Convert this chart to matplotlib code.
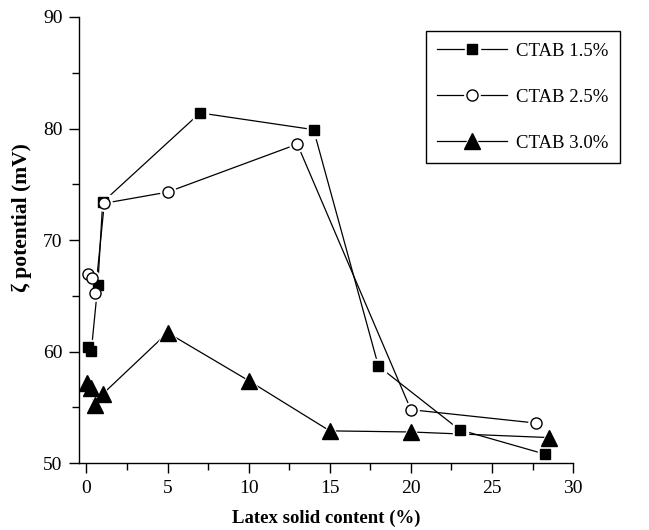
import matplotlib
matplotlib.use("Agg")
import matplotlib.pyplot as plt

# --- data ---
x_15 = [0.1, 0.3, 0.7, 1.0, 7, 14, 18, 23, 28.3]
y_15 = [60.4, 60.1, 66.0, 73.4, 81.4, 79.9, 58.7, 53.0, 50.8]

x_25 = [0.1, 0.35, 0.55, 1.1, 5, 13, 20, 27.7]
y_25 = [67.0, 66.6, 65.3, 73.3, 74.3, 78.6, 54.8, 53.6]

x_30 = [0.05, 0.25, 0.5, 1.0, 5, 10, 15, 20, 28.5]
y_30 = [57.2, 56.7, 55.2, 56.2, 61.7, 57.4, 52.9, 52.8, 52.3]

labels = ["CTAB 1.5%", "CTAB 2.5%", "CTAB 3.0%"]

plt.rcParams['font.family'] = ['Liberation Serif', 'DejaVu Serif']

fig = plt.figure(figsize=(6.49, 5.30), dpi=100)
ax = fig.add_axes([0.122, 0.126, 0.761, 0.842])


def draw(x, y, marker, ms, face):
    line, = ax.plot(x, y, '-', color='black', lw=0.9, zorder=1)
    halo, = ax.plot(x, y, ls='none', marker=marker, ms=ms + 3,
                    mfc='white', mec='white', zorder=2)
    mark, = ax.plot(x, y, ls='none', marker=marker, ms=ms,
                    mfc=face, mec='black', mew=1.0, zorder=3)
    return (line, halo, mark)


h1 = draw(x_15, y_15, 's', 7.8, 'black')
h2 = draw(x_25, y_25, 'o', 8, 'white')
h3 = draw(x_30, y_30, '^', 11, 'black')

ax.set_xlim(-0.45, 30)
ax.set_ylim(50, 90)
ax.set_xticks(range(0, 31, 5))
ax.set_xticks([2.5 + 5 * i for i in range(6)], minor=True)
ax.set_yticks(range(50, 91, 10))
ax.set_yticks(range(55, 90, 10), minor=True)

for s in ['top', 'right']:
    ax.spines[s].set_visible(False)
for s in ['left', 'bottom']:
    ax.spines[s].set_linewidth(1.0)

ax.tick_params(which='major', direction='out', length=7, width=1.0,
               labelsize=14, pad=5)
ax.tick_params(which='minor', direction='out', length=5, width=1.0)

ax.set_xlabel("Latex solid content (%)", fontsize=13.5, fontweight='bold',
              labelpad=9)
ax.set_ylabel("ζ potential (mV)", fontsize=15.5, fontweight='bold')
ax.yaxis.set_label_coords(-0.095, 0.55)

leg = ax.legend([h1, h2, h3], labels, loc='upper left',
                bbox_to_anchor=(0.702, 0.968), fontsize=13.5,
                handlelength=3.7, handletextpad=0.5, labelspacing=1.55,
                borderpad=0.6, borderaxespad=0, fancybox=False,
                frameon=True, framealpha=1)
leg.get_frame().set_edgecolor('black')
leg.get_frame().set_linewidth(1.0)

fig.savefig("out.png", dpi=100)
